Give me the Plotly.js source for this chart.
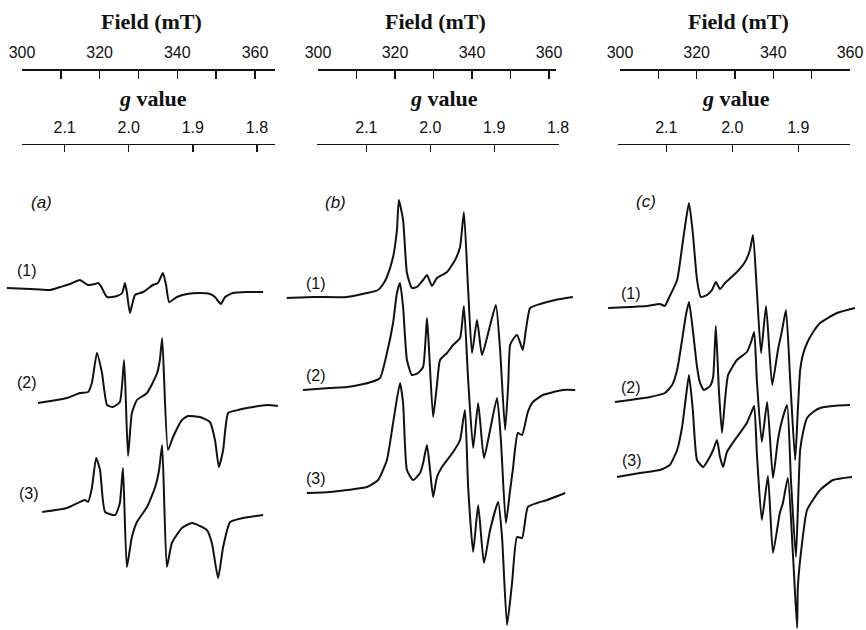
<!DOCTYPE html>
<html><head><meta charset="utf-8">
<script src="https://cdn.plot.ly/plotly-3.0.1.min.js"></script>
<style>html,body{margin:0;padding:0;background:#fff}#chart{width:866px;height:630px}</style>
</head><body><div id="chart"></div>
<script>
// ---- data: field (mT) and signal amplitude (arb. units) ----
const fieldTicks = [300, 310, 320, 330, 340, 350, 360];
const fieldTickText = ['300', '', '320', '', '340', '', '360'];
const gTicksAB = [2.1, 2.0, 1.9, 1.8];
const gTicksC = [2.1, 2.0, 1.9];
const panelNames = ['(a)', '(b)', '(c)'];
const traceNames = ['(1)', '(2)', '(3)'];

const a1Field = [296.1,302.1,307.2,309.8,312.4,314.9,317.0,318.8,319.6,320.3,321.9,324.5,325.8,326.5,327.0,327.8,329.1,331.2,333.7,335.0,336.3,337.1,337.9,339.9,342.5,345.8,348.4,349.7,351.2,352.3,354.3,357.9,362.1];
const a1Amp = [0,-1,-2,1,4,8,3,4,5,2,-9,-8,-5,5,-4,-25,-7,-4,3,5,15,3,-14,-9,-6,-5,-6,-9,-16,-9,-5,-4,-4];
const a2Field = [304.1,311.6,314.9,317.0,318.0,319.3,320.6,321.9,323.4,325.2,326.3,327.3,328.3,329.6,332.2,334.8,335.5,336.1,337.6,338.9,341.2,342.8,345.8,348.4,349.7,350.7,351.8,353.1,355.6,359.5,363.1,365.9];
const a2Amp = [0,5,10,11,20,50,30,-2,-4,1,43,-53,-10,3,10,30,43,65,-47,-34,-17,-13,-14,-19,-37,-64,-47,-10,-7,-4,-2,-3];
const a3Field = [305.2,311.6,316.2,317.0,318.0,319.1,320.1,321.4,324.0,325.2,326.0,327.0,328.3,329.6,332.2,334.3,335.3,336.1,337.3,338.6,341.2,343.8,347.6,348.9,350.5,351.8,353.6,356.9,362.1];
const a3Amp = [0,4,12,10,24,54,42,0,-3,9,44,-55,-25,-10,5,25,42,67,-55,-31,-16,-11,-18,-31,-66,-35,-10,-6,-3];

const b1Field = [291.9,298.7,307.5,312.7,315.6,317.1,317.9,319.5,320.5,321.0,322.1,323.1,324.4,325.7,327.3,328.3,329.6,330.9,333.5,335.6,336.9,337.9,339.0,340.0,341.3,342.6,344.4,346.2,347.3,348.6,349.4,349.9,350.9,351.7,352.7,353.2,354.0,355.1,357.7,361.6,366.2];
const b1Amp = [0,1,1,5,8,15,21,41,68,98,78,25,10,11,18,23,12,20,26,38,51,86,8,-55,-22,-57,-32,-7,-52,-132,-87,-47,-40,-37,-47,-52,-32,-10,-6,-2,1];
const b2Field = [296.1,303.1,307.5,313.0,316.1,317.9,319.5,320.5,321.3,322.1,323.1,324.4,326.0,327.3,328.3,328.8,329.9,330.9,331.7,333.5,335.1,336.9,337.9,339.0,340.3,341.6,343.1,344.7,346.5,347.5,348.8,349.9,350.6,351.9,353.0,354.5,355.8,358.4,363.6,366.8];
const b2Amp = [0,2,3,7,12,37,67,97,107,83,30,15,17,23,72,43,-27,5,30,37,45,52,84,10,-58,-13,-68,-40,-8,-50,-133,-100,-80,-43,-45,-22,-12,-5,0,0];
const b3Field = [297.1,303.1,307.5,312.7,315.6,317.9,319.5,321.3,322.1,323.1,324.7,326.5,327.3,328.3,329.1,329.9,330.9,332.2,335.1,336.9,337.7,338.2,339.0,340.3,341.6,343.1,344.7,346.8,347.8,349.1,350.4,351.7,353.0,354.5,356.9,359.5,362.9,364.2];
const b3Amp = [0,1,3,6,13,33,70,110,90,23,13,20,30,48,23,-4,16,26,41,53,73,83,6,-59,-12,-70,-37,-9,-44,-132,-90,-44,-45,-14,-10,-7,-2,0];

const c1Field = [296.9,302.6,307.0,310.4,311.7,312.5,314.9,316.2,317.2,318.0,319.0,320.1,321.1,322.7,324.0,325.0,326.1,327.4,330.5,332.6,333.9,334.7,335.7,336.8,338.1,339.7,341.2,342.3,343.3,344.4,345.7,346.4,347.0,347.7,348.8,350.4,352.2,356.6,361.3];
const c1Amp = [0,1,2,4,2,8,28,61,88,105,75,28,11,13,18,26,19,25,36,46,58,73,18,-45,2,-77,-42,-22,-2,-72,-152,-102,-62,-47,-35,-24,-15,-5,0];
const c2Field = [298.7,302.6,307.8,311.7,313.6,314.9,316.2,317.2,318.0,319.0,320.1,320.9,321.9,323.5,324.3,325.0,325.8,326.6,327.4,328.2,330.5,333.1,334.2,335.0,335.7,337.0,338.4,339.9,341.2,342.3,343.6,344.6,345.9,347.0,348.0,348.8,350.4,352.2,355.6,360.0];
const c2Amp = [0,2,5,9,17,32,62,87,100,72,35,19,12,16,25,76,12,-31,2,27,42,50,60,70,22,-40,0,-76,-38,-18,-3,-78,-155,-48,-26,-16,-10,-6,-4,-3];
const c3Field = [299.2,305.2,310.4,313.0,314.9,316.2,317.2,318.0,319.0,320.1,321.7,323.0,324.3,325.3,326.1,326.9,327.9,330.5,333.1,334.2,335.0,335.7,337.0,338.6,339.9,341.7,342.5,343.8,345.1,346.2,346.4,347.5,348.8,352.2,355.6,360.5];
const c3Amp = [0,4,7,12,27,50,80,102,67,17,10,17,27,37,20,10,25,40,54,64,71,24,-43,1,-76,-36,-26,-1,-76,-151,-110,-66,-33,-13,-3,0];

// ---- layout geometry (pixels in the 866x630 page) ----
const W = 866, H = 630;
const px = v => v / W, py = v => 1 - v / H;
const panels = [
  {p300: 22,  s: 3.883, spec: [0, 290],   field: [22, 275],  g: [22, 275],  gRange: [2.1665, 1.7718], gTicks: gTicksAB,
   base: [288, 403, 512], fieldTitleX: 151, gTitleX: 153, letter: [41, 203], lab: [[27, 270], [27, 383], [29, 493]],
   series: [[a1Field, a1Amp], [a2Field, a2Amp], [a3Field, a3Amp]]},
  {p300: 318, s: 3.85,  spec: [280, 590], field: [318, 556], g: [317, 559], gRange: [2.1773, 1.7986], gTicks: gTicksAB,
   base: [298, 390, 493], fieldTitleX: 435, gTitleX: 444, letter: [335, 203], lab: [[316, 283], [316, 375], [316, 478]],
   series: [[b1Field, b1Amp], [b2Field, b2Amp], [b3Field, b3Amp]]},
  {p300: 620, s: 3.833, spec: [590, 866], field: [620, 850], g: [618, 850], gRange: [2.1732, 1.8217], gTicks: gTicksC,
   base: [308, 402, 477], fieldTitleX: 738, gTitleX: 736, letter: [646, 202], lab: [[631, 293], [631, 387], [632, 460]],
   series: [[c1Field, c1Amp], [c2Field, c2Amp], [c3Field, c3Amp]]}
];

const tickFont = {family: 'Liberation Sans, Arial, sans-serif', size: 16, color: '#111'};
const titleFont = {family: 'Liberation Serif, Times New Roman, serif', size: 22, color: '#111'};
const labFont = {family: 'Liberation Sans, Arial, sans-serif', size: 16, color: '#111'};
const letterFont = {family: 'Liberation Sans, Arial, sans-serif', size: 17, color: '#111'};

const traces = [];
const layout = {
  width: W, height: H, margin: {l: 0, r: 0, t: 0, b: 0},
  paper_bgcolor: '#fff', plot_bgcolor: 'rgba(0,0,0,0)', showlegend: false,
  yaxis: {domain: [0, 1], range: [-H, 0], visible: false, fixedrange: true},
  annotations: []
};

panels.forEach((p, i) => {
  const sx = i + 1, fx = i + 4, gx = i + 7;
  const f = v => 300 + (v - p.p300) / p.s;
  layout['xaxis' + (sx === 1 ? '' : sx)] = {domain: [px(p.spec[0]), px(p.spec[1])], range: [f(p.spec[0]), f(p.spec[1])], visible: false, anchor: 'y'};
  layout['xaxis' + fx] = {
    domain: [px(p.field[0]), px(p.field[1])], range: [f(p.field[0]), f(p.field[1])],
    anchor: 'free', position: py(69), side: 'top', showline: true, linecolor: '#111', linewidth: 1.5,
    ticks: 'inside', ticklen: 8, tickwidth: 1.4, tickcolor: '#111', tickmode: 'array',
    tickvals: fieldTicks, ticktext: fieldTickText, tickfont: tickFont, ticklabelstandoff: 5,
    showgrid: false, zeroline: false
  };
  layout['xaxis' + gx] = {
    domain: [px(p.g[0]), px(p.g[1])], range: p.gRange,
    anchor: 'free', position: py(144), side: 'top', showline: true, linecolor: '#111', linewidth: 1.3,
    ticks: 'inside', ticklen: 7, tickwidth: 1.4, tickcolor: '#111', tickmode: 'array',
    tickvals: p.gTicks, ticktext: p.gTicks.map(v => v.toFixed(1)), tickfont: tickFont, ticklabelstandoff: 5,
    showgrid: false, zeroline: false
  };
  traces.push({x: [], y: [], xaxis: 'x' + fx, yaxis: 'y', mode: 'lines', hoverinfo: 'skip'});
  traces.push({x: [], y: [], xaxis: 'x' + gx, yaxis: 'y', mode: 'lines', hoverinfo: 'skip'});
  p.series.forEach((s, k) => {
    traces.push({
      x: s[0], y: s[1].map(v => v - p.base[k]),
      xaxis: sx === 1 ? 'x' : 'x' + sx, yaxis: 'y', mode: 'lines',
      line: {color: '#111', width: 2, shape: 'spline', smoothing: 0.5}, hoverinfo: 'skip'
    });
    layout.annotations.push({text: traceNames[k], x: px(p.lab[k][0]), y: py(p.lab[k][1]), xref: 'paper', yref: 'paper',
      showarrow: false, xanchor: 'center', yanchor: 'middle', font: labFont});
  });
  layout.annotations.push({text: '<b>Field (mT)</b>', x: px(p.fieldTitleX), y: py(22), xref: 'paper', yref: 'paper',
    showarrow: false, xanchor: 'center', yanchor: 'middle', font: titleFont});
  layout.annotations.push({text: '<b><i>g</i> value</b>', x: px(p.gTitleX), y: py(98), xref: 'paper', yref: 'paper',
    showarrow: false, xanchor: 'center', yanchor: 'middle', font: titleFont});
  layout.annotations.push({text: '<i>' + panelNames[i] + '</i>', x: px(p.letter[0]), y: py(p.letter[1]), xref: 'paper', yref: 'paper',
    showarrow: false, xanchor: 'center', yanchor: 'middle', font: letterFont});
});

Plotly.newPlot('chart', traces, layout, {staticPlot: true, displayModeBar: false});
</script></body></html>
